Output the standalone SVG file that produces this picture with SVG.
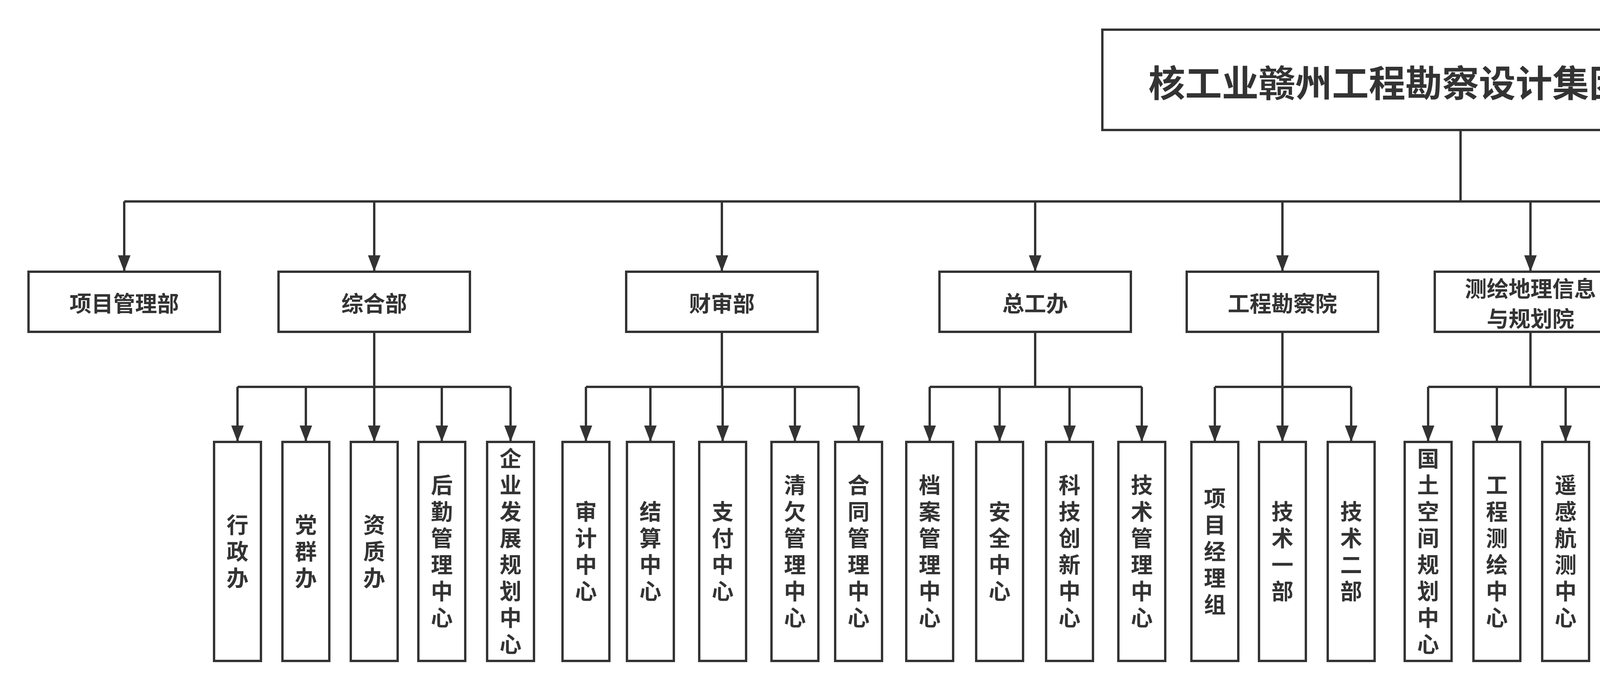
<svg xmlns="http://www.w3.org/2000/svg" width="7173" height="1770" viewBox="0 0 7173 1770">
<style>
.b{fill:#fff;stroke:#333;stroke-width:6}
.t{font-family:"Noto Sans CJK SC","Liberation Sans",sans-serif;font-weight:bold;fill:#333;text-anchor:middle;dominant-baseline:central}
.l1{font-size:56px}
.v{font-family:"Noto Sans CJK SC","Liberation Sans",sans-serif;font-weight:bold;fill:#333;font-size:56px;writing-mode:vertical-rl;text-anchor:middle;letter-spacing:12px}
.c{fill:none;stroke:#333;stroke-width:6}
.a{marker-end:url(#ar)}
</style>
<defs><marker id="ar" markerUnits="userSpaceOnUse" markerWidth="44" markerHeight="32" refX="42" refY="16" orient="auto"><path d="M0,0 L42,16 L0,32 z" fill="#333"/></marker></defs>
<rect width="7173" height="1770" fill="#fff"/>
<g id="connectors">
<path class="c" d="M3739 333V516M318 516H6791"/>
<path class="c a" d="M318 516V696"/><path class="c a" d="M958 516V696"/><path class="c a" d="M1848 516V696"/><path class="c a" d="M2650 516V696"/><path class="c a" d="M3283 516V696"/><path class="c a" d="M3918 516V696"/><path class="c a" d="M4530 516V696"/><path class="c a" d="M5119 516V696"/><path class="c a" d="M5687 516V696"/><path class="c a" d="M6246 516V696"/><path class="c a" d="M6791 516V696"/>
<path class="c" d="M958 850V991M608 991H1307M1848 850V991M1500 991H2198M2650 850V991M2380 991H2923M3283 850V991M3110 991H3459M3918 850V991M3656 991H4184M4530 850V991M4434 991H4608M5119 850V991M4951 991H5289M5687 850V991M5600 991H5768M6246 850V991M6078 991H6415M6791 850V991M6710 991H6872"/>
<path class="c a" d="M608 991V1132"/><path class="c a" d="M783 991V1132"/><path class="c a" d="M958 991V1132"/><path class="c a" d="M1131 991V1132"/><path class="c a" d="M1307 991V1132"/>
<path class="c a" d="M1500 991V1132"/><path class="c a" d="M1665 991V1132"/><path class="c a" d="M1850 991V1132"/><path class="c a" d="M2035 991V1132"/><path class="c a" d="M2198 991V1132"/>
<path class="c a" d="M2380 991V1132"/><path class="c a" d="M2559 991V1132"/><path class="c a" d="M2738 991V1132"/><path class="c a" d="M2923 991V1132"/>
<path class="c a" d="M3110 991V1132"/><path class="c a" d="M3283 991V1132"/><path class="c a" d="M3459 991V1132"/>
<path class="c a" d="M3656 991V1132"/><path class="c a" d="M3832 991V1132"/><path class="c a" d="M4008 991V1132"/><path class="c a" d="M4184 991V1132"/>
<path class="c a" d="M4434 991V1132"/><path class="c a" d="M4608 991V1132"/>
<path class="c a" d="M4951 991V1132"/><path class="c a" d="M5119 991V1132"/><path class="c a" d="M5289 991V1132"/>
<path class="c a" d="M5600 991V1132"/><path class="c a" d="M5768 991V1132"/>
<path class="c a" d="M6078 991V1132"/><path class="c a" d="M6246 991V1132"/><path class="c a" d="M6415 991V1132"/>
<path class="c a" d="M6710 991V1132"/><path class="c a" d="M6872 991V1132"/>
</g>
<g id="root"><rect class="b" x="2822" y="76" width="1835" height="257"/><text class="t" x="3739" y="207" font-size="94">核工业赣州工程勘察设计集团有限公司</text></g>
<g id="d1"><rect class="b" x="73" y="696" width="490" height="154"/><text class="t l1" x="318" y="773">项目管理部</text></g>
<g id="d2"><rect class="b" x="713" y="696" width="490" height="154"/><text class="t l1" x="958" y="773">综合部</text></g>
<g id="d3"><rect class="b" x="1603" y="696" width="490" height="154"/><text class="t l1" x="1848" y="773">财审部</text></g>
<g id="d4"><rect class="b" x="2405" y="696" width="490" height="154"/><text class="t l1" x="2650" y="773">总工办</text></g>
<g id="d5"><rect class="b" x="3038" y="696" width="490" height="154"/><text class="t l1" x="3283" y="773">工程勘察院</text></g>
<g id="d6"><rect class="b" x="3673" y="696" width="490" height="154"/><text class="t l1" x="3918" y="735">测绘地理信息</text><text class="t l1" x="3918" y="812">与规划院</text></g>
<g id="d7"><rect class="b" x="4285" y="696" width="490" height="154"/><text class="t l1" x="4530" y="773">生态修复院</text></g>
<g id="d8"><rect class="b" x="4882" y="696" width="475" height="154"/><text class="t l1" x="5119" y="773">检测公司</text></g>
<g id="d9"><rect class="b" x="5450" y="696" width="475" height="154"/><text class="t l1" x="5687" y="773">监理公司</text></g>
<g id="d10"><rect class="b" x="6008" y="696" width="475" height="154"/><text class="t l1" x="6246" y="773">市场开发部</text></g>
<g id="d11"><rect class="b" x="6554" y="696" width="475" height="154"/><text class="t l1" x="6791" y="773">物探院</text></g>

<g id="s1"><rect class="b" x="548" y="1132" width="120" height="561"/><text class="v" x="608" y="1418">行政办</text></g>
<g id="s2"><rect class="b" x="723" y="1132" width="120" height="561"/><text class="v" x="783" y="1418">党群办</text></g>
<g id="s3"><rect class="b" x="898" y="1132" width="120" height="561"/><text class="v" x="958" y="1418">资质办</text></g>
<g id="s4"><rect class="b" x="1071" y="1132" width="120" height="561"/><text class="v" x="1131" y="1418">后勤管理中心</text></g>
<g id="s5"><rect class="b" x="1247" y="1132" width="120" height="561"/><text class="v" x="1307" y="1418">企业发展规划中心</text></g>
<g id="s6"><rect class="b" x="1440" y="1132" width="120" height="561"/><text class="v" x="1500" y="1418">审计中心</text></g>
<g id="s7"><rect class="b" x="1605" y="1132" width="120" height="561"/><text class="v" x="1665" y="1418">结算中心</text></g>
<g id="s8"><rect class="b" x="1790" y="1132" width="120" height="561"/><text class="v" x="1850" y="1418">支付中心</text></g>
<g id="s9"><rect class="b" x="1975" y="1132" width="120" height="561"/><text class="v" x="2035" y="1418">清欠管理中心</text></g>
<g id="s10"><rect class="b" x="2138" y="1132" width="120" height="561"/><text class="v" x="2198" y="1418">合同管理中心</text></g>
<g id="s11"><rect class="b" x="2320" y="1132" width="120" height="561"/><text class="v" x="2380" y="1418">档案管理中心</text></g>
<g id="s12"><rect class="b" x="2499" y="1132" width="120" height="561"/><text class="v" x="2559" y="1418">安全中心</text></g>
<g id="s13"><rect class="b" x="2678" y="1132" width="120" height="561"/><text class="v" x="2738" y="1418">科技创新中心</text></g>
<g id="s14"><rect class="b" x="2863" y="1132" width="120" height="561"/><text class="v" x="2923" y="1418">技术管理中心</text></g>
<g id="s15"><rect class="b" x="3050" y="1132" width="120" height="561"/><text class="v" x="3110" y="1418">项目经理组</text></g>
<g id="s16"><rect class="b" x="3223" y="1132" width="120" height="561"/><text class="v" x="3283" y="1418">技术一部</text></g>
<g id="s17"><rect class="b" x="3399" y="1132" width="120" height="561"/><text class="v" x="3459" y="1418">技术二部</text></g>
<g id="s18"><rect class="b" x="3596" y="1132" width="120" height="561"/><text class="v" x="3656" y="1418">国土空间规划中心</text></g>
<g id="s19"><rect class="b" x="3772" y="1132" width="120" height="561"/><text class="v" x="3832" y="1418">工程测绘中心</text></g>
<g id="s20"><rect class="b" x="3948" y="1132" width="120" height="561"/><text class="v" x="4008" y="1418">遥感航测中心</text></g>
<g id="s21"><rect class="b" x="4124" y="1132" width="120" height="561"/><text class="v" x="4184" y="1418">地信中心</text></g>
<g id="s22"><rect class="b" x="4374" y="1132" width="120" height="561"/><text class="v" x="4434" y="1418">设计部</text></g>
<g id="s23"><rect class="b" x="4548" y="1132" width="120" height="561"/><text class="v" x="4608" y="1418">施工部</text></g>
<g id="s24"><rect class="b" x="4892" y="1132" width="118" height="561"/><text class="v" x="4951" y="1418">地基基础检测室</text></g>
<g id="s25"><rect class="b" x="5060" y="1132" width="118" height="561"/><text class="v" x="5119" y="1418">主体结构检测室</text></g>
<g id="s26"><rect class="b" x="5230" y="1132" width="118" height="561"/><text class="v" x="5289" y="1418">见证室环检测室</text></g>
<g id="s27"><rect class="b" x="5541" y="1132" width="118" height="561"/><text class="v" x="5600" y="1418">房屋市政监理部</text></g>
<g id="s28"><rect class="b" x="5709" y="1132" width="118" height="561"/><text class="v" x="5768" y="1418">地灾监理部</text></g>
<g id="s29"><rect class="b" x="6019" y="1132" width="118" height="561"/><text class="v" x="6078" y="1418">投标中心</text></g>
<g id="s30"><rect class="b" x="6187" y="1132" width="118" height="561"/><text class="v" x="6246" y="1418">市场开发中心</text></g>
<g id="s31"><rect class="b" x="6356" y="1132" width="118" height="561"/><text class="v" x="6415" y="1418">合作经营管理中心</text></g>
<g id="s32"><rect class="b" x="6651" y="1132" width="118" height="561"/><text class="v" x="6710" y="1418">技术一部</text></g>
<g id="s33"><rect class="b" x="6813" y="1132" width="118" height="561"/><text class="v" x="6872" y="1418">技术二部</text></g>
</svg>
